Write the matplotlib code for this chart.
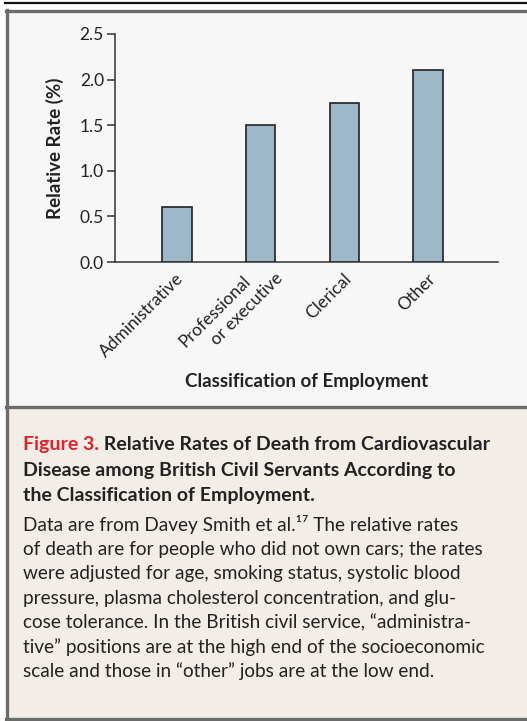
import matplotlib
matplotlib.use('Agg')
import matplotlib.pyplot as plt
from matplotlib.patches import Rectangle
from matplotlib.lines import Line2D

plt.rcParams['font.family'] = ['Lato', 'DejaVu Sans']

categories = ['Administrative', 'Professional\nor executive', 'Clerical', 'Other']
rates = [0.6, 1.5, 1.74, 2.1]
yticks = [0.0, 0.5, 1.0, 1.5, 2.0, 2.5]
ytick_labels = ['0.0', '0.5', '1.0', '1.5', '2.0', '2.5']

title_red = 'Figure 3.'
title_rest = ['Relative Rates of Death from Cardiovascular',
              'Disease among British Civil Servants According to',
              'the Classification of Employment.']
body_lines = ['Data are from Davey Smith et al.\u00b9\u2077 The relative rates',
              'of death are for people who did not own cars; the rates',
              'were adjusted for age, smoking status, systolic blood',
              'pressure, plasma cholesterol concentration, and glu-',
              'cose tolerance. In the British civil service, \u201cadministra-',
              'tive\u201d positions are at the high end of the socioeconomic',
              'scale and those in \u201cother\u201d jobs are at the low end.']

W, H = 527, 721
fig = plt.figure(figsize=(W / 100, H / 100), dpi=100)
fig.patch.set_facecolor('white')

def fx(px):
    return px / W

def fy(py):
    return 1 - py / H

# background panels and frame
fig.patches.append(Rectangle((fx(6), fy(407)), 1, fy(11) - fy(407), transform=fig.transFigure,
                             facecolor='#f7f7f7', edgecolor='none', zorder=-2))
fig.patches.append(Rectangle((fx(6), fy(719)), 1, fy(407) - fy(719), transform=fig.transFigure,
                             facecolor='#f2ede6', edgecolor='none', zorder=-2))
border = '#6b6b6b'
fig.lines.append(Line2D([fx(5), 1], [fy(2.5), fy(2.5)], transform=fig.transFigure, color='#111111', lw=1.6))
fig.lines.append(Line2D([fx(6), 1], [fy(11), fy(11)], transform=fig.transFigure, color=border, lw=2.4))
fig.lines.append(Line2D([fx(6.5), fx(6.5)], [fy(10), fy(720)], transform=fig.transFigure, color=border, lw=2.4))
fig.lines.append(Line2D([fx(6), 1], [fy(407), fy(407)], transform=fig.transFigure, color=border, lw=2.4))
fig.lines.append(Line2D([fx(6), 1], [fy(719), fy(719)], transform=fig.transFigure, color=border, lw=2.4))

# chart
ax = fig.add_axes([fx(115), fy(262), fx(498) - fx(115), fy(34) - fy(262)])
ax.set_zorder(5)
ax.set_facecolor('none')
x = range(len(categories))
ax.bar(x, rates, width=0.35, color='#9cb8c9', edgecolor='#222222', linewidth=1.2, zorder=3)
ax.set_xlim(-0.74, 3.835)
ax.set_ylim(0, 2.5)
ax.set_yticks(yticks)
ax.set_yticklabels(ytick_labels, fontsize=12.5, color='#222222')
ax.set_xticks(list(x))
ax.set_xticklabels([])
ax.tick_params(axis='y', direction='out', length=6, width=1.1, color='#333333', pad=2)
ax.tick_params(axis='x', length=0)
for s in ['top', 'right']:
    ax.spines[s].set_visible(False)
for s in ['left', 'bottom']:
    ax.spines[s].set_color('#333333')
    ax.spines[s].set_linewidth(1.1)

# rotated category labels; second lines are staggered along the text direction
for i, lab in enumerate(categories):
    parts = lab.split('\n')
    if len(parts) == 1:
        offsets = [(3, -10)]
    else:
        offsets = [(-9, -11.5), (14, -10)]
    for part, off in zip(parts, offsets):
        ax.annotate(part, xy=(i, 0), xytext=off, textcoords='offset points',
                    rotation=45, rotation_mode='anchor', ha='right', va='center',
                    fontsize=12.5, color='#222222', annotation_clip=False)

fig.text(fx(55), fy(148), 'Relative Rate (%)', rotation=90, ha='center', va='center',
         fontsize=13.5, fontweight='bold', color='#222222')
fig.text(fx(307), fy(382), 'Classification of Employment', ha='center', va='center',
         fontsize=13.5, fontweight='bold', color='#222222')

# caption
t1 = fig.text(fx(23), fy(445), title_red, ha='left', va='center', fontsize=14,
              fontweight='bold', color='#e3202c')
fig.canvas.draw()
ext = t1.get_window_extent()
fig.text(ext.x1 / fig.bbox.width, fy(445), ' ' + title_rest[0], ha='left', va='center',
         fontsize=14, fontweight='bold', color='#222222')
for j, line in enumerate(title_rest[1:]):
    fig.text(fx(23), fy(445 + 25.5 * (j + 1)), line, ha='left', va='center', fontsize=14,
             fontweight='bold', color='#222222')
for j, line in enumerate(body_lines):
    fig.text(fx(23), fy(525 + 24.4 * j), line, ha='left', va='center', fontsize=13.7,
             color='#222222')

fig.savefig('out.png', dpi=100, facecolor=fig.get_facecolor())
